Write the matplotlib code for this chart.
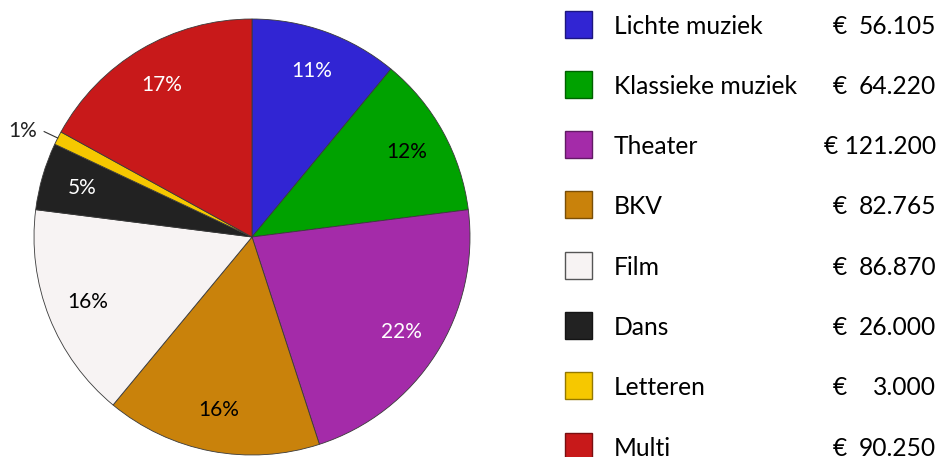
import matplotlib
matplotlib.use("Agg")
import matplotlib.pyplot as plt
import numpy as np

# budget per discipline (euro)
categories = ["Lichte muziek", "Klassieke muziek", "Theater", "BKV", "Film",
              "Dans", "Letteren", "Multi"]
amounts = [56105, 64220, 121200, 82765, 86870, 26000, 3000, 90250]
# percentages as printed in the chart (rounded so they add to 100);
# the slices in the original are drawn from these rounded values
pct_labels = [11, 12, 22, 16, 16, 5, 1, 17]
colors = ["#3125d3", "#00a200", "#a42ba9", "#c9820b", "#f7f3f3",
          "#222222", "#f6c800", "#c8191a"]
label_colors = ["white", "black", "white", "black", "black", "white", "black", "white"]

W, H = 939, 457
fig = plt.figure(figsize=(W / 100, H / 100), dpi=100)

# pie: center approx (252, 237) px, radius 218 px
cx, cy, r = 252, 237, 218
ax = fig.add_axes([(cx - r) / W, (H - cy - r) / H, 2 * r / W, 2 * r / H])
wedges, _ = ax.pie(pct_labels, colors=colors, startangle=90, counterclock=False,
                   wedgeprops=dict(edgecolor="#3a3a3a", linewidth=0.6))
ax.set_xlim(-1, 1)
ax.set_ylim(-1, 1)
ax.set_aspect("equal")
ax.axis("off")

pct_font = "Lato"
for w, p, c in zip(wedges, pct_labels, label_colors):
    ang = np.deg2rad((w.theta1 + w.theta2) / 2)
    x0, y0 = np.cos(ang), np.sin(ang)
    if p < 2:
        # small slice: label outside with a leader line
        ax.plot([x0, x0 * 1.07], [y0, y0 * 1.065], color="#333333", lw=0.8,
                clip_on=False)
        ax.text(-0.985, 0.485, f"{p}%", ha="right", va="center",
                fontsize=15, color="#222222", family=pct_font)
        continue
    d = 0.81
    ax.text(d * x0, d * y0, f"{p}%", ha="center", va="center",
            fontsize=15, color=c, family=pct_font)

# legend drawn by hand in figure pixel coordinates
leg = fig.add_axes([0, 0, 1, 1])
leg.set_xlim(0, W)
leg.set_ylim(H, 0)
leg.axis("off")
leg_font = "Lato"
fs = 17.7
y0, step = 24, 60.3
for i, (name, val, col) in enumerate(zip(categories, amounts, colors)):
    y = y0 + i * step
    edge = tuple(0.6 * np.array(matplotlib.colors.to_rgb(col)))
    if col == "#f7f3f3":
        edge = "#555555"
    leg.add_patch(plt.Rectangle((565, y - 13.5), 27, 27, facecolor=col,
                                edgecolor=edge, linewidth=1.0))
    leg.text(614, y, name, ha="left", va="center_baseline", fontsize=fs, family=leg_font)
    s = f"{val:,}".replace(",", ".")
    if len(s) > 6:
        leg.text(936, y, "€ " + s, ha="right", va="center_baseline", fontsize=fs,
                 family=leg_font)
    else:
        leg.text(833, y, "€", ha="left", va="center_baseline", fontsize=fs, family=leg_font)
        leg.text(936, y, s, ha="right", va="center_baseline", fontsize=fs, family=leg_font)

fig.savefig("out.png", dpi=100)
